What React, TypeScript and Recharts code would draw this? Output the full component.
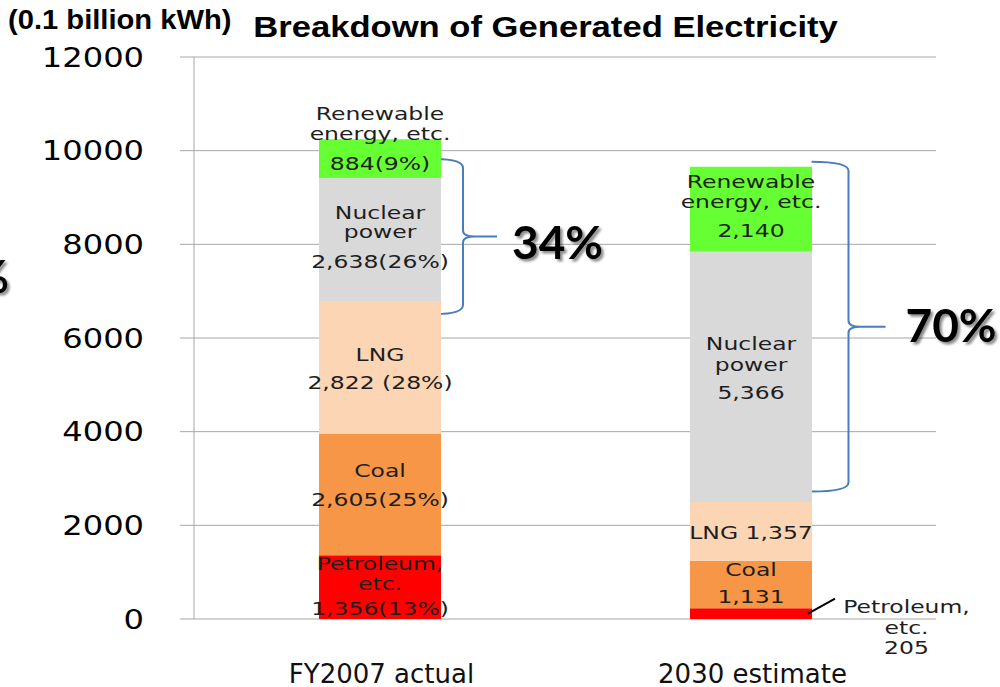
import React from 'react';
import { BarChart, Bar, XAxis, YAxis, CartesianGrid, LabelList, ReferenceArea, Customized } from 'recharts';

// ---------- data ----------
const categories = ['FY2007 actual', '2030 estimate'];
const petroleum = [1360, 228];
const coal = [2600, 1017];
const lng = [2830, 1253];
const nuclear = [2625, 5345];
const renewable = [830, 1814];
const yTicks = [0, 2000, 4000, 6000, 8000, 10000, 12000];

const petroleumText = [['Petroleum,', 'etc.', '1,356(13%)'], ['Petroleum,', 'etc.', '205']];
const coalText = [['Coal', '2,605(25%)'], ['Coal', '1,131']];
const lngText = [['LNG', '2,822 (28%)'], ['LNG 1,357']];
const nuclearText = [['Nuclear', 'power', '2,638(26%)'], ['Nuclear', 'power', '5,366']];
const renewableText = [['Renewable', 'energy, etc.', '884(9%)'], ['Renewable', 'energy, etc.', '2,140']];

const braceLow = [6510, 2720];
const braceHigh = [9820, 9765];
const braceText = ['34%', '70%'];

const titleText = 'Breakdown of Generated Electricity';
const unitText = '(0.1 billion kWh)';
const cutText = '%';

const rows = categories.map((c, i) => ({
  category: c,
  petroleum: petroleum[i],
  coal: coal[i],
  lng: lng[i],
  nuclear: nuclear[i],
  renewable: renewable[i],
}));

// ---------- styles ----------
const BAR_SIZE = 122;
const GRID = '#a6a6a6';
const LABEL_SX = 1.27;
const labelFont = { fontFamily: 'DejaVu Sans', fontSize: 18.5, fill: '#1e1e1e' } as const;

const TEXTS: Record<string, string[][]> = {
  petroleum: petroleumText,
  coal: coalText,
  lng: lngText,
  nuclear: nuclearText,
  renewable: renewableText,
};

// baseline offsets relative to the segment centre
const LINE_DY: Record<string, number[][]> = {
  petroleum: [[-17, 3, 28], [-0.7, 20.3, 40.3]],
  coal: [[-17.5, 11.2], [-8.5, 18]],
  lng: [[-6.7, 21.6], [8]],
  nuclear: [[-20.6, -1.6, 28.4], [-27, -6, 22]],
  renewable: [[-39, -19, 11], [-21, -1, 28]],
};

const COLORS: Record<string, string> = {
  petroleum: '#ff0000',
  coal: '#f79646',
  lng: '#fcd5b5',
  nuclear: '#d9d9d9',
  renewable: '#66ff33',
};

const BRACE_STYLE = [
  { start: -5, arm: 22.5, tip: 56.5, tdx: 15, tdy: 22 },
  { start: 0, arm: 37, tip: 74, tdx: 20, tdy: 15.3 },
];

const OUTSIDE = { textDx: 94.5, leadFrom: [-4, 0], leadTo: [23, -15] };

const num = (v: any) => (typeof v === 'number' ? v : parseFloat(v));

const makeLabel = (key: string) => (props: any) => {
  const index = props.index ?? 0;
  const vb = props.viewBox && props.viewBox.width != null ? props.viewBox : props;
  const x = num(vb.x);
  const y = num(vb.y);
  const w = num(vb.width);
  const h = num(vb.height);
  const cx = x + w / 2;
  const cy = y + h / 2;
  const lines = TEXTS[key][index];
  const dys = LINE_DY[key][index];
  if (key === 'petroleum' && index === 1) {
    const right = x + w;
    const tx = right + OUTSIDE.textDx;
    return (
      <g>
        <line
          x1={right + OUTSIDE.leadFrom[0]}
          y1={cy + OUTSIDE.leadFrom[1]}
          x2={right + OUTSIDE.leadTo[0]}
          y2={cy + OUTSIDE.leadTo[1]}
          stroke="#000"
          strokeWidth={2}
        />
        {lines.map((t, i) => (
          <text key={i} transform={`translate(${tx},${cy + dys[i]}) scale(${LABEL_SX},1)`} textAnchor="middle" style={labelFont}>
            {t}
          </text>
        ))}
      </g>
    );
  }
  return (
    <g>
      {lines.map((t, i) => (
        <text key={i} transform={`translate(${cx},${cy + dys[i]}) scale(${LABEL_SX},1)`} textAnchor="middle" style={labelFont}>
          {t}
        </text>
      ))}
    </g>
  );
};

const YTick = (props: any) => {
  const { x, y, payload } = props;
  return (
    <text transform={`translate(${x},${y + 9.8}) scale(1.19,1)`} textAnchor="end" fontFamily="DejaVu Sans" fontSize={27} fill="#000">
      {payload.value}
    </text>
  );
};

const XTick = (props: any) => {
  const { x, y, payload } = props;
  return (
    <text x={x + 2} y={y + 63.5} textAnchor="middle" fontFamily="DejaVu Sans" fontSize={26} fill="#111">
      {payload.value}
    </text>
  );
};

const makeBrace = (i: number) => (props: any) => {
  const x = num(props.x);
  const y = num(props.y);
  const width = num(props.width);
  const height = num(props.height);
  const s = BRACE_STYLE[i];
  const barRight = x + width / 2 + BAR_SIZE / 2;
  const x0 = barRight + s.start;
  const xv = barRight + s.arm;
  const xt = barRight + s.tip;
  const yT = y;
  const yB = y + height;
  const yM = (yT + yB) / 2;
  const r = 9;
  const r2 = 6;
  const k = 12;
  const d = [
    `M ${x0} ${yT}`,
    `Q ${xv} ${yT} ${xv} ${yT + r}`,
    `L ${xv} ${yM - r2}`,
    `Q ${xv} ${yM} ${xv + k} ${yM}`,
    `L ${xt} ${yM}`,
    `M ${xv + k} ${yM}`,
    `Q ${xv} ${yM} ${xv} ${yM + r2}`,
    `L ${xv} ${yB - r}`,
    `Q ${xv} ${yB} ${x0} ${yB}`,
  ].join(' ');
  return (
    <g>
      <path d={d} fill="none" stroke="#4a7ebb" strokeWidth={2} />
      <text
        x={xt + s.tdx}
        y={yM + s.tdy}
        fontFamily="Lato"
        fontWeight={700}
        fontSize={46}
        fill="#000"
        filter="url(#txtShadow)"
      >
        {braceText[i]}
      </text>
    </g>
  );
};

const StaticLayer = () => (
  <g>
    <defs>
      <filter id="txtShadow" x="-20%" y="-30%" width="150%" height="170%">
        <feDropShadow dx="2.5" dy="2.5" stdDeviation="1.3" floodColor="#000" floodOpacity="0.45" />
      </filter>
    </defs>
    <text transform="translate(8,28.5) scale(1.08,1)" fontFamily="Liberation Sans" fontWeight={700} fontSize={27} fill="#000">
      {unitText}
    </text>
    <text transform="translate(545.5,37) scale(1.154,1)" textAnchor="middle" fontFamily="Liberation Sans" fontWeight={700} fontSize={30} fill="#000">
      {titleText}
    </text>
    <text x={9} y={293} textAnchor="end" fontFamily="Lato" fontWeight={700} fontSize={46} fill="#000" filter="url(#txtShadow)">
      {cutText}
    </text>
  </g>
);

const SERIES = ['petroleum', 'coal', 'lng', 'nuclear', 'renewable'];

export default function App() {
  return (
    <div style={{ position: 'absolute', left: 0, top: 0, width: 1000, height: 687, background: '#fff', overflow: 'hidden' }}>
      <BarChart width={1000} height={687} data={rows} margin={{ top: 57, right: 64, bottom: 0, left: 0 }}>
        <CartesianGrid horizontal vertical={false} stroke={GRID} strokeWidth={1} />
        <XAxis
          dataKey="category"
          axisLine={false}
          tickLine={false}
          tickSize={0}
          tickMargin={0}
          height={68}
          tick={<XTick />}
          interval={0}
        />
        <YAxis
          domain={[0, 12000]}
          ticks={yTicks}
          interval={0}
          width={194}
          axisLine={{ stroke: GRID }}
          tickLine={{ stroke: GRID }}
          tickSize={14}
          tickMargin={36}
          tick={<YTick />}
          allowDataOverflow
        />
        {SERIES.map((key) => (
          <Bar key={key} dataKey={key} stackId="a" fill={COLORS[key]} barSize={BAR_SIZE} isAnimationActive={false}>
            <LabelList dataKey={key} content={makeLabel(key)} />
          </Bar>
        ))}
        {categories.map((c, i) => (
          <ReferenceArea
            key={c}
            x1={c}
            x2={c}
            y1={braceLow[i]}
            y2={braceHigh[i]}
            ifOverflow="visible"
            shape={makeBrace(i)}
          />
        ))}
        <Customized component={StaticLayer} />
      </BarChart>
    </div>
  );
}
